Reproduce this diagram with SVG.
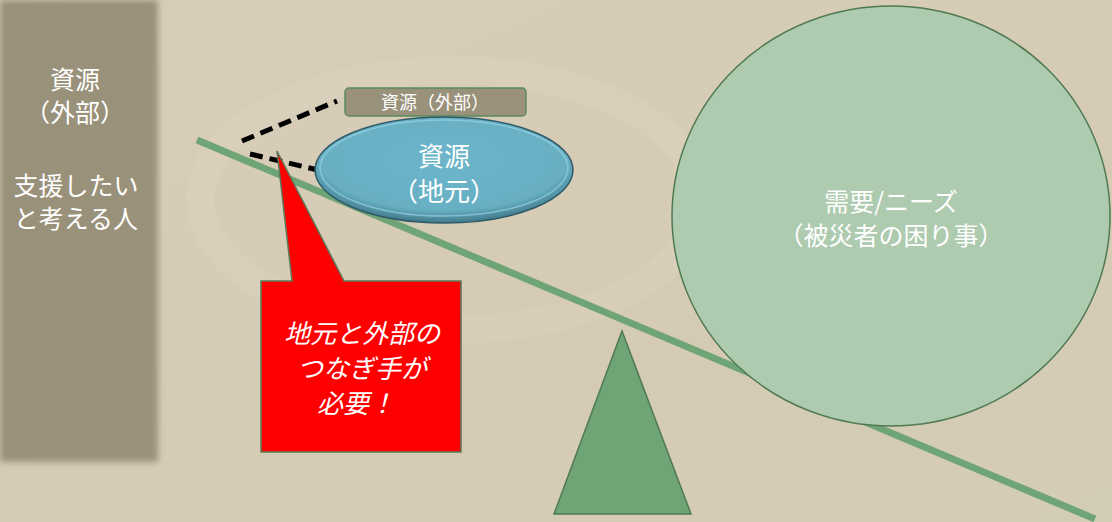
<svg xmlns="http://www.w3.org/2000/svg" width="1112" height="522" viewBox="0 0 1112 522">
<style>
.w{fill:#ffffff;font-family:"Noto Sans CJK JP","Liberation Sans",sans-serif;text-anchor:middle}
.dash{stroke:#000;stroke-width:5;stroke-dasharray:13 7;fill:none}
</style>
<defs>
<linearGradient id="bg" x1="0" y1="0" x2="1" y2="1">
<stop offset="0" stop-color="#d8cdb9"/>
<stop offset="0.5" stop-color="#d6cbb5"/>
<stop offset="1" stop-color="#d3ccb6"/>
</linearGradient>
<radialGradient id="ell" cx="0.5" cy="0.4" r="0.6">
<stop offset="0" stop-color="#6cb5ca"/>
<stop offset="0.8" stop-color="#68afc4"/>
<stop offset="1" stop-color="#3f7888"/>
</radialGradient>
<filter id="blur" x="-0.1" y="-0.1" width="1.2" height="1.2"><feGaussianBlur stdDeviation="3"/></filter>
</defs>
<rect width="1112" height="522" fill="url(#bg)"/>
<ellipse cx="450" cy="200" rx="250" ry="130" fill="none" stroke="#e2ddcf" stroke-width="28" opacity="0.18"/>
<g id="panel">
<rect x="0" y="0" width="158" height="462" fill="#9a917a" filter="url(#blur)"/>
<text class="w" x="75" y="89" font-size="25">資源</text>
<text class="w" x="75" y="122" font-size="25">（外部）</text>
<text class="w" x="76" y="195" font-size="25">支援したい</text>
<text class="w" x="76" y="228" font-size="25">と考える人</text>
</g>
<g id="connectors">
<line x1="197" y1="140" x2="1095" y2="519" stroke="#6fa476" stroke-width="7"/>
<line class="dash" x1="242" y1="141" x2="337" y2="101"/>
<line class="dash" x1="250" y1="154" x2="318" y2="170"/>
</g>
<g id="fulcrum">
<polygon points="622,331 554,514 691,514" fill="#6fa476" stroke="#4f7a52" stroke-width="1.5"/>
</g>
<g id="needs">
<ellipse cx="891" cy="216" rx="219" ry="210" fill="#aecbaf" stroke="#4f7a52" stroke-width="1.5"/>
<text class="w" x="891" y="211" font-size="25">需要/ニーズ</text>
<text class="w" x="891" y="245" font-size="25">（被災者の困り事）</text>
</g>
<g id="external-label">
<rect x="345" y="88" width="181" height="28" rx="4" fill="#9a917a" stroke="#5b8a5f" stroke-width="1.5"/>
<text class="w" x="435" y="109" font-size="18">資源（外部）</text>
</g>
<g id="local">
<ellipse cx="444" cy="170" rx="129" ry="53" fill="url(#ell)" stroke="#2f5a66" stroke-width="1.5"/>
<ellipse cx="444" cy="168" rx="124" ry="48" fill="none" stroke="#9fdbea" stroke-width="1.5" opacity="0.6"/>
<text class="w" x="444" y="166" font-size="26">資源</text>
<text class="w" x="444" y="201" font-size="26">（地元）</text>
</g>
<g id="callout">
<path d="M261,281 H292 L277,151 L344,281 H461 V452 H261 Z" fill="#ff0000" stroke="#5b7a5b" stroke-width="1.5"/>
<text class="w" x="362" y="343" font-size="26" font-style="italic">地元と外部の</text>
<text class="w" x="362" y="378" font-size="26" font-style="italic">つなぎ手が</text>
<text class="w" x="356" y="413" font-size="26" font-style="italic">必要！</text>
</g>
</svg>
